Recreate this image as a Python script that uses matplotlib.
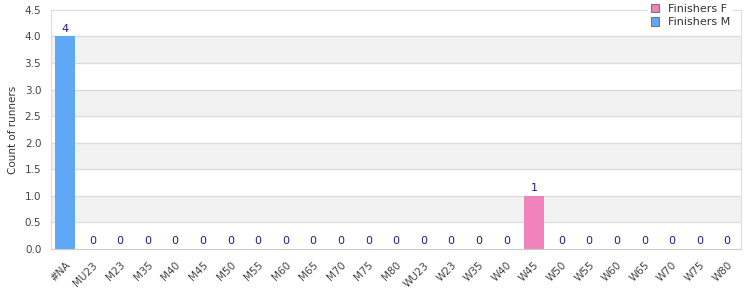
import matplotlib.pyplot as plt
import numpy as np

categories = ["#NA", "MU23", "M23", "M35", "M40", "M45", "M50", "M55", "M60",
              "M65", "M70", "M75", "M80", "WU23", "W23", "W35", "W40", "W45",
              "W50", "W55", "W60", "W65", "W70", "W75", "W80"]
finishers_f = [0, 0, 0, 0, 0, 0, 0, 0, 0, 0, 0, 0, 0, 0, 0, 0, 0, 1,
               0, 0, 0, 0, 0, 0, 0]
finishers_m = [4, 0, 0, 0, 0, 0, 0, 0, 0, 0, 0, 0, 0, 0, 0, 0, 0, 0,
               0, 0, 0, 0, 0, 0, 0]

BLUE = "#5fa8f5"
PINK = "#f282bc"
LABEL_COLOR = "#1c1c94"

fig = plt.figure(figsize=(7.5, 3), dpi=100)
ax = fig.add_axes([0.068, 0.17, 0.92, 0.797])

x = np.arange(len(categories))
f = np.array(finishers_f)
m = np.array(finishers_m)

# alternating background bands
for lo in np.arange(0.5, 4.5, 1.0):
    ax.axhspan(lo, lo + 0.5, color="#f2f2f2", zorder=0, lw=0)
for y in np.arange(0.5, 4.5, 0.5):
    ax.axhline(y, color="#dddddd", lw=1, zorder=1)

ax.bar(x, f, width=0.72, color=PINK, label="Finishers F", zorder=2)
ax.bar(x, m, width=0.72, bottom=f, color=BLUE, label="Finishers M", zorder=2)

totals = f + m
for xi, t in zip(x, totals):
    ax.text(xi, t + 0.05, "%d" % t, ha="center", va="bottom",
            fontsize=8, color=LABEL_COLOR, zorder=3)

ax.set_xlim(-0.5, len(categories) - 0.5)
ax.set_ylim(0, 4.5)
ax.set_yticks(np.arange(0, 4.51, 0.5))
ax.set_yticklabels(["%.1f" % v for v in np.arange(0, 4.51, 0.5)])
ax.set_xticks(x)
ax.set_xticklabels(categories, rotation=45, ha="right", rotation_mode="anchor")
ax.tick_params(axis="both", length=0, labelsize=7.5, labelcolor="#444444")
ax.tick_params(axis="x", pad=8)
ax.tick_params(axis="y", pad=7)

for side in ["left", "top", "right"]:
    ax.spines[side].set_color("#dddddd")
ax.spines["bottom"].set_color("#cccccc")

ax.set_ylabel("Count of runners", fontsize=7.5, color="#333333", labelpad=5)

leg = ax.legend(loc="upper right", bbox_to_anchor=(0.997, 1.06), fontsize=8,
                frameon=True, fancybox=False, edgecolor="none",
                handlelength=0.8, handleheight=0.8, handletextpad=0.8,
                borderpad=0.25, labelspacing=0.3)
leg.get_frame().set_facecolor("white")
leg.get_frame().set_alpha(1)
for h in leg.legend_handles:
    h.set_edgecolor("#777777")
    h.set_linewidth(0.8)
for t in leg.get_texts():
    t.set_color("#333333")

fig.savefig("out.png", dpi=100)
